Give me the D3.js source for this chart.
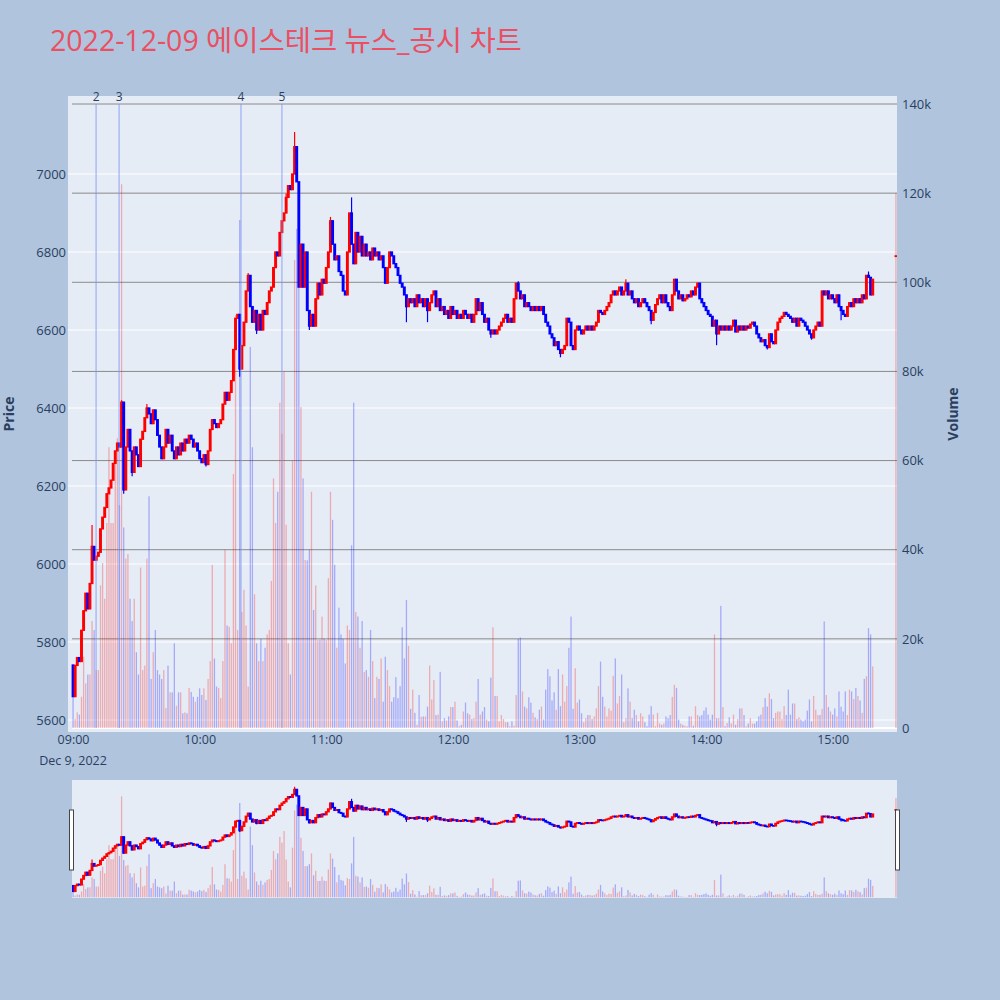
<!DOCTYPE html>
<html>
<head>
<meta charset="utf-8">
<script src="https://cdn.jsdelivr.net/npm/d3@7"></script>
<style>
  body { margin: 0; background: #b0c4de; }
  text { font-family: "Open Sans", "Noto Sans CJK KR", sans-serif; }
</style>
</head>
<body>
<div id="chart"></div>
<script>
// Trading day and chart title
var tradeDate = "2022-12-09";
var chartTitle = "2022-12-09 에이스테크 뉴스_공시 차트";

// 1-minute closes from 09:00 (one value per minute)
var closes = [
  5660, 5740, 5760, 5750, 5830, 5880, 5925, 5885, 5950, 6045,
  6010, 6020, 6030, 6090, 6120, 6145, 6180, 6195, 6215, 6258,
  6290, 6310, 6300, 6415, 6190, 6300, 6345, 6290, 6235, 6300,
  6280, 6250, 6320, 6340, 6375, 6400, 6385, 6360, 6395, 6370,
  6330, 6300, 6270, 6300, 6345, 6310, 6330, 6290, 6270, 6300,
  6280, 6310, 6290, 6320, 6310, 6330, 6320, 6300, 6310, 6290,
  6270, 6260, 6280, 6255, 6290, 6345, 6370, 6360, 6350, 6360,
  6370, 6410, 6440, 6420, 6440, 6470, 6550, 6630, 6640, 6500,
  6560, 6620, 6700, 6740, 6660, 6620, 6650, 6600, 6640, 6600,
  6650, 6640, 6670, 6700, 6710, 6760, 6800, 6790, 6850, 6880,
  6900, 6940, 6970, 6960, 7000, 7070, 6980, 6710, 6820, 6710,
  6800, 6650, 6610, 6640, 6610, 6680, 6720, 6690, 6730, 6720,
  6760, 6800, 6880, 6820, 6780, 6790, 6750, 6740, 6700, 6690,
  6800, 6900, 6820, 6770, 6850, 6800, 6840, 6790, 6820, 6790,
  6800, 6780, 6810, 6790, 6800, 6780, 6790, 6760, 6720, 6760,
  6800, 6790, 6770, 6760, 6740, 6720, 6710, 6690, 6660, 6680,
  6670, 6680, 6660, 6690, 6670, 6680, 6660, 6680, 6650, 6670,
  6690, 6700, 6660, 6680, 6650, 6660, 6640, 6650, 6630, 6660,
  6640, 6650, 6630, 6640, 6630, 6650, 6640, 6630, 6640, 6620,
  6640, 6680, 6650, 6670, 6640, 6620, 6630, 6600, 6590, 6600,
  6590, 6600, 6610, 6620, 6630, 6640, 6620, 6630, 6620, 6680,
  6720, 6700, 6680, 6690, 6660, 6670, 6660, 6650, 6660, 6650,
  6660, 6650, 6660, 6640, 6620, 6610, 6590, 6580, 6560, 6570,
  6550, 6540, 6550, 6560, 6630, 6620, 6560, 6550, 6600, 6610,
  6600, 6590, 6600, 6610, 6600, 6610, 6600, 6610, 6620, 6650,
  6645, 6640, 6650, 6660, 6670, 6690, 6700, 6690, 6700, 6710,
  6690, 6700, 6720, 6690, 6700, 6680, 6670, 6680, 6660, 6670,
  6680, 6670, 6660, 6650, 6625, 6645, 6665, 6680, 6690, 6670,
  6690, 6670, 6660, 6650, 6690, 6730, 6700, 6680, 6690, 6675,
  6680, 6690, 6685, 6700, 6690, 6710, 6720, 6680, 6670, 6660,
  6650, 6640, 6635, 6610, 6625, 6590, 6610, 6600, 6610, 6600,
  6610, 6600, 6610, 6625, 6595, 6610, 6600, 6610, 6600, 6610,
  6605, 6615, 6620, 6610, 6590, 6580, 6570, 6575, 6560, 6555,
  6590, 6570, 6565, 6600, 6620, 6630, 6635, 6645, 6640, 6635,
  6630, 6620, 6630, 6610, 6630, 6625, 6620, 6610, 6600, 6590,
  6580, 6600, 6610, 6620, 6610, 6700, 6690, 6700, 6680, 6690,
  6680, 6670, 6690, 6660, 6650, 6640, 6635, 6660, 6670, 6660,
  6680, 6670, 6680, 6670, 6690, 6680, 6740, 6735, 6690, 6730
];

// 1-minute volume, thousands of shares
var volumesK = [
  7, 2, 3.5, 3, 7, 16, 10, 12, 12, 24,
  22, 13, 13, 32, 37, 29, 46, 63, 46, 46,
  62, 65, 50, 122, 45, 38, 39, 29, 24, 29,
  17, 12, 36, 13, 14, 38, 52, 11, 17, 22,
  13, 12, 11, 13, 4.5, 14, 8, 8, 19, 5,
  8, 8, 3.3, 3.5, 3.3, 9, 8.1, 7, 5.9, 7,
  8.9, 7.4, 8.9, 6.3, 11, 15, 36.6, 15.6, 9.3, 9,
  6.7, 15, 40, 23, 22.7, 19, 57, 92.7, 22, 114,
  26, 31, 23, 9.3, 85.5, 63, 30, 19, 15, 20,
  15, 18, 21, 22, 33, 56, 46, 53, 73, 66,
  80, 45.6, 19, 12, 60, 105, 112, 99, 72, 56,
  37.7, 37.6, 40, 53, 26.5, 32, 19.7, 19.8, 25, 20,
  19.7, 33.6, 53, 46.7, 36.6, 18, 27, 21, 20, 14.5,
  23, 22, 41, 73, 26, 25, 18, 24, 12.6, 13,
  11.5, 22, 15, 6.7, 11.5, 11, 15.6, 5.9, 16, 13,
  9.4, 5.9, 6.9, 11.4, 6.7, 9.4, 22.6, 15.6, 28.7, 18.4,
  4.3, 8.6, 3.4, 0.7, 7.4, 2.5, 2.6, 2.6, 4.8, 14,
  6.4, 10.8, 2.9, 3, 12.6, 1.5, 2.2, 1.7, 2.6, 4.7,
  4.7, 5.9, 1.7, 0.4, 0.7, 3.7, 5.7, 3.3, 3, 2,
  2.2, 5.9, 11, 3, 3.7, 4.7, 1.9, 1.5, 11.3, 22.6,
  7.2, 7.2, 1.5, 2.9, 2, 1.3, 1.3, 0.4, 1.5, 0.5,
  7.4, 20, 20.3, 8.2, 4.8, 4.4, 6.9, 5.7, 3.4, 2.4,
  2, 4.1, 4.8, 1.9, 8.6, 13.2, 11.6, 6.2, 8, 4.1,
  13.2, 4.9, 12, 5.9, 9.4, 18, 25, 4.3, 13.4, 5.7,
  6.4, 3.3, 1.3, 2.2, 2.9, 2.9, 2, 2.6, 4.4, 9.4,
  14.9, 7, 4.8, 2.6, 4.4, 3.9, 11.7, 15.6, 5.5, 7.2,
  12, 1.3, 2.2, 8.9, 5.9, 2.2, 4.1, 2.9, 1.5, 3.3,
  2.6, 1.3, 0.4, 3, 4.9, 3, 0.4, 3.4, 1, 0.7,
  1, 2.6, 2.2, 2.9, 7, 9.7, 9, 1.9, 1, 0.7,
  0.5, 0.4, 2.6, 2.6, 0.5, 4.9, 2.9, 2.6, 2.9, 3.9,
  4.6, 3, 1.9, 3, 21, 2.2, 2.2, 27.4, 4.7, 0.4,
  1.1, 2.4, 1, 3, 0.7, 2, 4.4, 4.4, 2.9, 0.4,
  1, 2.2, 1, 1, 1.5, 2.6, 3, 4.7, 6.7, 4.8,
  7.8, 6.5, 2.2, 3.4, 3.7, 3.7, 2, 4.9, 2.9, 8.6,
  3, 5.5, 5.5, 2, 2.4, 1.9, 1.5, 1.9, 3.9, 6.4,
  1.5, 7.2, 4.1, 2.9, 2.9, 4.3, 23.9, 7.4, 4.7, 3.7,
  3, 4.4, 2.6, 8.2, 4.8, 3.7, 8.2, 2.9, 8.6, 8.2,
  6.5, 9, 7.2, 6.2, 3.4, 11, 11.6, 22.4, 21, 13.8
];

// opens that differ from the previous close: [minute, price]
var openGaps = [[0, 5741]];

// notable wicks: [minute, price]
var highWicks = [[9, 6100], [23, 6420], [35, 6410], [83, 6746], [101, 6950], [105, 7108],
  [122, 6890], [132, 6940], [211, 6725], [262, 6730], [285, 6730], [377, 6750]];
var lowWicks = [[24, 6180], [28, 6225], [63, 6250], [79, 6480], [87, 6590], [112, 6600],
  [158, 6620], [168, 6620], [198, 6580], [231, 6530], [274, 6615], [305, 6561],
  [329, 6550], [350, 6575], [364, 6625]];

// closing auction at 15:30
var auctionTime = "15:30:00";
var auctionPrice = 6790;
var auctionVolumeK = 120;

// news / disclosure markers
var newsTimes = ["09:10:55", "09:21:50", "10:19:35", "10:39:00"];
var newsLabels = ["2", "3", "4", "5"];

// tick values
var priceTicks = [5600, 5800, 6000, 6200, 6400, 6600, 6800, 7000];
var volumeTicks = [0, 20000, 40000, 60000, 80000, 100000, 120000, 140000];
var hourTicks = ["09:00", "10:00", "11:00", "12:00", "13:00", "14:00", "15:00"];

// ---------------------------------------------------------------
var svgWidth = 1000;
var svgHeight = 1000;
var plot = { left: 68, right: 897, top: 96, bottom: 732 };
var slider = { left: 72, right: 897, top: 780, bottom: 898 };
var UP = "#ff0000", DOWN = "#0000ff", INK = "#2a3f5f";

var parseTime = d3.timeParse("%Y-%m-%d %H:%M:%S");
var t0 = parseTime(tradeDate + " 09:00:00");

// Build the candle rows
var candles = closes.map(function(c, i) {
  var gap = openGaps.find(function(g) { return g[0] === i; });
  var o = gap ? gap[1] : (i === 0 ? c : closes[i - 1]);
  var hw = highWicks.find(function(w) { return w[0] === i; });
  var lw = lowWicks.find(function(w) { return w[0] === i; });
  return {
    date: d3.timeMinute.offset(t0, i),
    open: o,
    close: c,
    high: Math.max(o, c, hw ? hw[1] : 0),
    low: Math.min(o, c, lw ? lw[1] : Infinity),
    volume: volumesK[i] * 1000
  };
});
candles.push({
  date: parseTime(tradeDate + " " + auctionTime),
  open: auctionPrice, close: auctionPrice, high: auctionPrice, low: auctionPrice,
  volume: auctionVolumeK * 1000, up: true
});
candles.forEach(function(d) {
  if (d.up === undefined) d.up = d.close > d.open;
});

var svg = d3.select("#chart")
  .append("svg")
  .attr("width", svgWidth)
  .attr("height", svgHeight);

svg.append("rect").attr("width", svgWidth).attr("height", svgHeight).attr("fill", "#b0c4de");

// Scales
var xScale = d3.scaleTime()
  .domain([parseTime(tradeDate + " 08:59:30"), parseTime(tradeDate + " 15:30:30")])
  .range([slider.left, slider.right]);

var yPrice = d3.scaleLinear().domain([5600, 7000]).range([720, 174]);
var yVol = d3.scaleLinear().domain([0, 140000]).range([728, 104]);

// Slider scales share the main plot's full vertical range
var yPriceS = d3.scaleLinear()
  .domain([yPrice.invert(plot.bottom), yPrice.invert(plot.top)])
  .range([slider.bottom, slider.top]);
var yVolS = d3.scaleLinear()
  .domain([yVol.invert(plot.bottom), yVol.invert(plot.top)])
  .range([slider.bottom, slider.top]);

// Title
svg.append("text")
  .attr("x", 50)
  .attr("y", 51)
  .attr("fill", "#ea4f62")
  .style("font-size", "28.5px")
  .text(chartTitle);

// Plot background
svg.append("rect")
  .attr("x", plot.left).attr("y", plot.top)
  .attr("width", plot.right - plot.left).attr("height", plot.bottom - plot.top)
  .attr("fill", "#e5ecf6");

svg.append("clipPath").attr("id", "clip-main")
  .append("rect")
  .attr("x", plot.left).attr("y", plot.top)
  .attr("width", plot.right - plot.left).attr("height", plot.bottom - plot.top);

// Price grid (white)
svg.append("g")
  .selectAll("line")
  .data(priceTicks)
  .join("line")
  .attr("x1", plot.left).attr("x2", plot.right)
  .attr("y1", function(d) { return yPrice(d); })
  .attr("y2", function(d) { return yPrice(d); })
  .attr("stroke", "#ffffff").attr("stroke-width", 1);

// Volume grid (grey)
svg.append("g")
  .selectAll("line")
  .data(volumeTicks)
  .join("line")
  .attr("x1", slider.left).attr("x2", plot.right)
  .attr("y1", function(d) { return yVol(d); })
  .attr("y2", function(d) { return yVol(d); })
  .attr("stroke", function(d) { return d === 0 ? "#ffffff" : "#8a8a8a"; })
  .attr("stroke-width", function(d) { return d === 0 ? 2 : 1; });

var mainGroup = svg.append("g").attr("clip-path", "url(#clip-main)");

// Draw volume bars + candles into a group with the given y scales
function drawSeries(group, yP, yV, bodyW, barW, edge) {
  group.append("g")
    .selectAll("rect")
    .data(candles)
    .join("rect")
    .attr("x", function(d) { return xScale(d.date) - barW / 2; })
    .attr("width", barW)
    .attr("y", function(d) { return yV(d.volume); })
    .attr("height", function(d) { return yV(0) - yV(d.volume); })
    .attr("fill", function(d) { return d.up ? UP : DOWN; })
    .attr("fill-opacity", 0.28);

  var c = group.append("g")
    .selectAll("g")
    .data(candles)
    .join("g");

  c.append("line")
    .attr("x1", function(d) { return xScale(d.date); })
    .attr("x2", function(d) { return xScale(d.date); })
    .attr("y1", function(d) { return yP(d.high); })
    .attr("y2", function(d) { return yP(d.low); })
    .attr("stroke", function(d) { return d.up ? UP : DOWN; })
    .attr("stroke-width", 1.2);

  c.append("rect")
    .attr("x", function(d) { return xScale(d.date) - bodyW / 2; })
    .attr("width", bodyW)
    .attr("y", function(d) { return yP(Math.max(d.open, d.close)); })
    .attr("height", function(d) { return Math.max(0.5, Math.abs(yP(d.open) - yP(d.close))); })
    .attr("fill", function(d) { return d.up ? UP : DOWN; })
    .attr("stroke", function(d) { return d.up ? UP : DOWN; })
    .attr("stroke-width", edge);
}

drawSeries(mainGroup, yPrice, yVol, 1.6, 1.3, 1.3);

// News markers
var newsGroup = svg.append("g");
newsTimes.forEach(function(t, i) {
  var x = xScale(parseTime(tradeDate + " " + t));
  newsGroup.append("line")
    .attr("x1", x).attr("x2", x)
    .attr("y1", yVol(140000)).attr("y2", yVol(0))
    .attr("stroke", "#7c93f2").attr("stroke-opacity", 0.55)
    .attr("stroke-width", 1.5);
  newsGroup.append("text")
    .attr("x", x).attr("y", 101)
    .attr("text-anchor", "middle")
    .attr("fill", INK)
    .style("font-size", "12px")
    .text(newsLabels[i]);
});

// Left axis (price)
var leftAxis = d3.axisLeft(yPrice).tickValues(priceTicks).tickSize(0).tickPadding(0)
  .tickFormat(d3.format("d"));
svg.append("g")
  .attr("transform", "translate(" + (plot.left - 2) + ",0)")
  .call(leftAxis)
  .call(function(g) { g.select(".domain").remove(); })
  .selectAll("text")
  .attr("fill", INK)
  .style("font-size", "13px")
  .style("font-family", "'Open Sans', sans-serif");

// Right axis (volume)
var rightAxis = d3.axisRight(yVol).tickValues(volumeTicks).tickSize(0).tickPadding(0)
  .tickFormat(function(d) { return d === 0 ? "0" : d / 1000 + "k"; });
svg.append("g")
  .attr("transform", "translate(" + (plot.right + 5) + ",0)")
  .call(rightAxis)
  .call(function(g) { g.select(".domain").remove(); })
  .selectAll("text")
  .attr("fill", INK)
  .style("font-size", "13px")
  .style("font-family", "'Open Sans', sans-serif");

// Bottom axis (time)
var bottomAxis = d3.axisBottom(xScale)
  .tickValues(hourTicks.map(function(h) { return parseTime(tradeDate + " " + h + ":00"); }))
  .tickFormat(d3.timeFormat("%H:%M"))
  .tickSize(0).tickPadding(3);
svg.append("g")
  .attr("transform", "translate(0," + plot.bottom + ")")
  .call(bottomAxis)
  .call(function(g) { g.select(".domain").remove(); })
  .selectAll("text")
  .attr("fill", INK)
  .style("font-size", "12.5px")
  .style("font-family", "'Open Sans', sans-serif");

svg.append("text")
  .attr("x", xScale(t0)).attr("y", 765)
  .attr("text-anchor", "middle")
  .attr("fill", INK)
  .style("font-size", "12.5px")
  .text(d3.timeFormat("%b %-d, %Y")(t0));

// Axis titles
svg.append("text")
  .attr("transform", "translate(14," + (plot.top + plot.bottom) / 2 + ") rotate(-90)")
  .attr("text-anchor", "middle")
  .attr("fill", INK)
  .style("font-size", "14px")
  .style("font-weight", "bold")
  .text("Price");

svg.append("text")
  .attr("transform", "translate(958," + (plot.top + plot.bottom) / 2 + ") rotate(-90)")
  .attr("text-anchor", "middle")
  .attr("fill", INK)
  .style("font-size", "14px")
  .style("font-weight", "bold")
  .text("Volume");

// Range slider
svg.append("rect")
  .attr("x", slider.left).attr("y", slider.top)
  .attr("width", slider.right - slider.left).attr("height", slider.bottom - slider.top)
  .attr("fill", "#e5ecf6");

svg.append("clipPath").attr("id", "clip-slider")
  .append("rect")
  .attr("x", slider.left).attr("y", slider.top)
  .attr("width", slider.right - slider.left).attr("height", slider.bottom - slider.top);

var sliderGroup = svg.append("g").attr("clip-path", "url(#clip-slider)");
drawSeries(sliderGroup, yPriceS, yVolS, 1.6, 1.3, 1.3);

// Slider handles
[slider.left - 2.5, slider.right - 1.5].forEach(function(x) {
  svg.append("rect")
    .attr("x", x).attr("y", 810)
    .attr("width", 4).attr("height", 60)
    .attr("fill", "#ffffff")
    .attr("stroke", "#444444")
    .attr("stroke-width", 1);
});
</script>
</body>
</html>
